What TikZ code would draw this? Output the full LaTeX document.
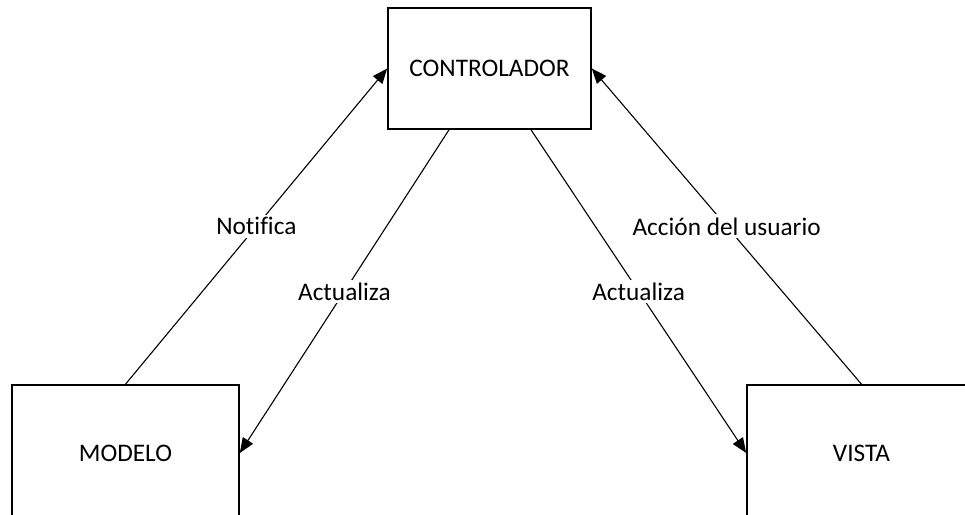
\documentclass[tikz,border=0pt]{standalone}
\usepackage{fontspec}
\setmainfont[Ligatures=NoCommon]{Carlito}
\usetikzlibrary{arrows.meta}
\begin{document}
\begin{tikzpicture}[x=1pt,y=-1pt,
  box/.style={draw,line width=1.6pt,minimum width=#1,inner sep=0pt,font=\fontsize{25.3}{30}\selectfont},
  conn/.style={line width=1.1pt,-{Triangle[length=15pt,width=12pt]}},
  lbl/.style={fill=white,inner sep=3pt,font=\fontsize{25.3}{30}\selectfont}]
\clip (0,0) rectangle (965,514);
\fill[white] (0,0) rectangle (965,514);
\node[box=203pt,minimum height=121pt] (ctrl) at (489.5,68.5) {CONTROLADOR};
\node[box=227pt,minimum height=136pt] (modelo) at (125.5,453) {MODELO};
\node[box=229pt,minimum height=136pt] (vista) at (861.5,453) {VISTA};
\draw[conn] (modelo.north) -- node[lbl] {Notifica} (ctrl.west);
\draw[conn] ([xshift=-40.5pt]ctrl.south) -- node[lbl] {Actualiza} (modelo.east);
\draw[conn] ([xshift=41.5pt]ctrl.south) -- node[lbl] {Actualiza} (vista.west);
\draw[conn] (vista.north) -- node[lbl] {Acción del usuario} (ctrl.east);
\end{tikzpicture}
\end{document}
